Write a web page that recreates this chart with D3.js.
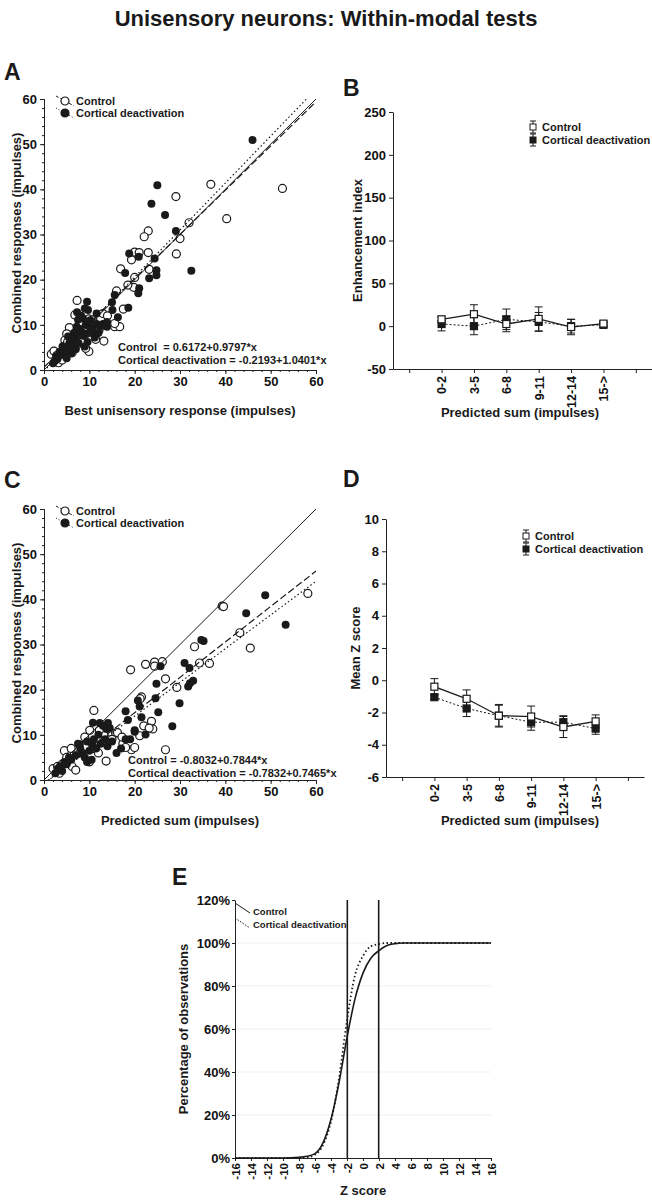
<!DOCTYPE html>
<html>
<head>
<meta charset="utf-8">
<script src="https://cdn.jsdelivr.net/npm/d3@7"></script>
<style>
  body { margin: 0; background: #fff; }
  svg { display: block; font-family: "Liberation Sans", Arial, Helvetica, sans-serif; font-weight: bold; }
  .axis path, .axis line { stroke: #222; }
  .axis text { fill: #111; font-weight: bold; font-family: "Liberation Sans", Arial, Helvetica, sans-serif; }
</style>
</head>
<body>
<svg width="652" height="1200"></svg>
<script>
// ---- data ----
const aControl = [[36.8,41.1],[52.6,40.2],[40.3,33.5],[29.1,38.4],[32.0,32.6],[30.0,29.1],[29.2,25.7],[23.0,30.8],[22.1,29.5],[23.0,26.0],[20.0,26.1],[21.0,26.0],[19.3,24.4],[23.2,22.3],[16.9,22.4],[20.0,20.5],[19.8,18.3],[16.0,17.5],[15.6,9.6],[16.7,9.6],[13.2,6.4],[7.3,15.4],[9.9,11.3],[12.1,8.7],[9.9,4.1],[5.9,8.9],[3.1,2.2],[4.6,6.6],[6.4,8.0],[8.6,10.3],[10.8,11.1],[1.6,3.5],[4.9,4.4],[7.9,7.4],[9.4,8.1],[13.0,12.5],[15.6,10.3],[2.2,4.2],[2.8,3.2],[3.6,2.6],[4.2,5.2],[5.2,6.2],[5.6,9.4],[6.6,7.2],[7.2,5.4],[7.6,9.6],[8.2,6.2],[8.8,9.2],[9.2,4.8],[10.2,9.6],[11.2,10.2],[12.2,9.2],[6.2,3.8],[8.2,10.6],[3.2,1.6],[4.0,2.2],[11.4,6.8],[14.0,12.0],[6.8,12.2],[5.0,8.0],[17.5,13.5],[18.5,18.8]]
const aCortical = [[46.0,50.9],[25.0,40.9],[23.7,36.8],[26.7,34.3],[29.1,30.8],[32.5,22.0],[24.4,24.7],[18.8,25.8],[20.9,25.1],[17.9,21.5],[24.8,22.1],[23.2,20.3],[24.8,21.0],[21.0,18.1],[20.8,17.0],[15.6,16.6],[15.0,15.0],[18.6,13.8],[15.1,13.3],[16.3,11.7],[13.9,10.6],[13.9,9.6],[9.5,15.1],[11.6,12.5],[7.3,12.8],[9.7,13.3],[8.6,11.4],[7.5,11.1],[10.1,9.6],[9.0,5.2],[6.8,5.9],[5.3,7.4],[4.2,5.2],[2.7,3.0],[2.0,1.5],[3.8,4.1],[6.0,3.7],[8.2,8.1],[10.8,8.1],[12.3,9.6],[2.4,2.0],[3.0,2.5],[3.4,4.0],[4.0,3.4],[4.6,5.0],[5.0,4.0],[5.6,6.0],[6.2,5.0],[6.6,8.2],[7.0,7.0],[7.6,6.0],[8.0,9.0],[8.6,7.6],[9.2,10.0],[9.6,6.2],[10.2,11.0],[10.6,9.0],[11.2,7.2],[11.6,10.2],[6.0,6.6],[7.2,9.6],[8.2,12.0],[9.0,13.6],[5.0,2.6],[3.2,3.2],[7.0,4.6],[9.2,8.0],[13.0,10.2],[12.0,8.2]]
const aFitControl = [0.6172, 0.9797]   // intercept, slope
const aFitCortical = [-0.2193, 1.0401]

const cControl = [[58.2,41.3],[39.3,38.5],[39.6,38.4],[43.2,32.6],[45.5,29.2],[33.2,29.5],[34.3,25.9],[36.5,25.8],[29.3,20.5],[19.1,24.4],[22.4,25.6],[24.4,26.1],[26.1,26.2],[24.4,25.2],[26.8,22.4],[21.5,18.4],[21.2,18.0],[23.7,13.0],[24.0,11.3],[21.1,9.8],[19.3,6.7],[26.8,6.7],[11.0,15.4],[15.8,10.4],[17.4,8.1],[10.1,11.0],[13.7,4.2],[2.0,2.5],[3.4,1.5],[4.5,6.5],[5.0,5.0],[6.2,3.0],[7.0,2.2],[8.0,6.0],[9.0,9.5],[10.0,4.0],[11.0,7.0],[12.0,6.0],[13.2,10.0],[15.0,9.0],[16.2,10.5],[17.2,9.5],[18.0,7.2],[20.0,7.2],[22.0,12.0],[23.2,11.5],[12.2,11.0],[6.0,7.0],[4.0,3.5],[3.0,3.0]]
const cCortical = [[48.8,40.9],[44.6,36.9],[53.3,34.4],[34.7,31.0],[35.2,30.8],[31.0,25.9],[32.1,24.8],[32.9,22.0],[31.8,20.7],[32.2,21.4],[29.9,17.0],[28.3,11.9],[25.7,25.2],[24.8,21.3],[24.6,18.1],[25.2,15.0],[20.7,17.6],[21.1,16.3],[18.0,15.2],[18.5,13.3],[21.5,13.9],[22.4,10.1],[20.0,10.7],[10.8,12.7],[12.3,12.6],[14.1,12.6],[13.8,11.3],[7.9,7.9],[2.5,1.5],[3.0,2.5],[3.5,3.0],[4.0,2.0],[4.5,4.0],[5.0,3.5],[5.5,5.0],[6.0,4.5],[7.0,5.5],[7.5,8.0],[8.0,7.0],[8.5,6.0],[9.0,5.0],[9.5,4.0],[10.0,6.5],[10.5,8.0],[11.0,9.0],[11.5,7.0],[12.0,10.0],[12.5,8.0],[13.0,12.0],[13.5,9.0],[14.0,7.5],[14.5,11.5],[15.0,8.5],[17.0,7.0],[18.0,9.0],[19.0,9.0],[20.0,11.0],[16.0,6.0],[9.5,8.5],[10.5,4.5]]
const cFitControl = [-0.8032, 0.7844]
const cFitCortical = [-0.7832, 0.7465]

const bins = ['0-2', '3-5', '6-8', '9-11', '12-14', '15->']
const bControlMean = [8, 14, 2.5, 8.5, -1, 3]
const bControlErr = [3, 11, 9, 14, 9, 3]
const bCorticalMean = [2.5, 0, 8, 5, 0, 1.5]
const bCorticalErr = [8, 10, 12, 11, 8, 3]

const dControlMean = [-0.4, -1.15, -2.2, -2.25, -2.9, -2.55]
const dControlErr = [0.5, 0.55, 0.7, 0.65, 0.65, 0.4]
const dCorticalMean = [-1.05, -1.75, -2.2, -2.6, -2.6, -3.0]
const dCorticalErr = [0.15, 0.5, 0.65, 0.5, 0.4, 0.35]

// cumulative % of observations vs Z score
const eControl = [[-16,0],[-10,0],[-8,0.3],[-7,0.8],[-6,2],[-5,7],[-4,18],[-3,35],[-2,56],[-1,74],[0,86],[1,93],[2,96.5],[3,98.8],[4,99.7],[5,100],[16,100]]
const eCortical = [[-16,0],[-8,0],[-7,0.3],[-6,1.5],[-5,6],[-4,17],[-3,37],[-2,64],[-1,85],[0,94],[1,98.5],[2,99.5],[3,100],[16,100]]
const zCrit = [-1.96, 1.96]

const ticks60 = [0, 10, 20, 30, 40, 50, 60]
const zTicks = [-16,-14,-12,-10,-8,-6,-4,-2,0,2,4,6,8,10,12,14,16]
const pctTicks = [0, 20, 40, 60, 80, 100, 120]

const svg = d3.select('svg')
const ink = '#1a1a1a'
const plain = d => String(d)   // keep ASCII hyphen for negatives

svg.append('text')
  .attr('x', 326).attr('y', 26)
  .attr('text-anchor', 'middle')
  .attr('font-size', '22px')
  .attr('fill', ink)
  .text('Unisensory neurons: Within-modal tests')

const panelLabel = (t, x, y) => svg.append('text')
  .attr('x', x).attr('y', y)
  .attr('font-size', '23px').attr('fill', ink).text(t)

const yTitle = (t, x, y) => svg.append('text')
  .attr('transform', `translate(${x},${y}) rotate(-90)`)
  .attr('text-anchor', 'middle')
  .attr('font-size', '13px').attr('fill', ink).text(t)

const xTitle = (t, x, y) => svg.append('text')
  .attr('x', x).attr('y', y)
  .attr('text-anchor', 'middle')
  .attr('font-size', '13px').attr('fill', ink).text(t)

const axisG = (tr) => svg.append('g').attr('class', 'axis').attr('transform', tr)

//#region scatter panels (A, C)
function scatterPanel(top, control, cortical, fitC, fitK, xLab, eqs) {
  const x = d3.scaleLinear().domain([0, 60]).range([44, 316])
  const y = d3.scaleLinear().domain([0, 60]).range([top + 271, top])
  const bottom = top + 271

  const id = 'clip' + top
  svg.append('clipPath').attr('id', id)
    .append('rect').attr('x', 44).attr('y', top).attr('width', 272).attr('height', 271)

  // minor ticks every 2 units
  axisG(`translate(0,${bottom})`)
    .call(d3.axisBottom(x).tickValues(d3.range(0, 61, 2)).tickSize(2).tickFormat(''))
  axisG('translate(44,0)')
    .call(d3.axisLeft(y).tickValues(d3.range(0, 61, 2)).tickSize(2).tickFormat(''))

  axisG(`translate(0,${bottom})`)
    .call(d3.axisBottom(x).tickValues(ticks60).tickSize(4).tickPadding(3).tickFormat(plain))
    .attr('font-size', '13px').attr('font-family', null)
  axisG('translate(44,0)')
    .call(d3.axisLeft(y).tickValues(ticks60).tickSize(4).tickPadding(3).tickFormat(plain))
    .attr('font-size', '13px').attr('font-family', null)

  svg.append('g').selectAll('circle').data(control).join('circle')
    .attr('cx', d => x(d[0])).attr('cy', d => y(d[1])).attr('r', 4)
    .attr('fill', '#fff').attr('stroke', ink).attr('stroke-width', 1.2)
  svg.append('g').selectAll('circle').data(cortical).join('circle')
    .attr('cx', d => x(d[0])).attr('cy', d => y(d[1])).attr('r', 4)
    .attr('fill', ink)

  const lines = svg.append('g').attr('clip-path', `url(#${id})`)
    .attr('fill', 'none').attr('stroke', ink)
  lines.append('line')
    .attr('x1', x(0)).attr('y1', y(0)).attr('x2', x(60)).attr('y2', y(60))
    .attr('stroke-width', 1)
  const fitLine = (f, dash) => lines.append('line')
    .attr('x1', x(0)).attr('y1', y(f[0]))
    .attr('x2', x(60)).attr('y2', y(f[0] + f[1] * 60))
    .attr('stroke-width', 1.2).attr('stroke-dasharray', dash)
  fitLine(fitC, '7,3')
  fitLine(fitK, '1.5,2.5')

  // legend
  const leg = svg.append('g').attr('transform', `translate(65,${top + 2})`)
  const item = (dy, dash, filled, label) => {
    const g = leg.append('g').attr('transform', `translate(0,${dy})`)
    g.append('line').attr('x1', -9).attr('y1', -5).attr('x2', 9).attr('y2', 5)
      .attr('stroke', ink).attr('stroke-dasharray', dash)
    g.append('circle').attr('r', 4)
      .attr('fill', filled ? ink : '#fff').attr('stroke', ink).attr('stroke-width', 1.2)
    g.append('text').attr('x', 11).attr('y', 4).attr('font-size', '11px').attr('fill', ink).text(label)
  }
  item(0, '3,2', false, 'Control')
  item(12, '1,2', true, 'Cortical deactivation')

  eqs.forEach(e => svg.append('text')
    .attr('x', e.x).attr('y', e.y)
    .attr('font-size', '11px').attr('fill', ink)
    .style('white-space', 'pre').text(e.t))

  xTitle(xLab, 180, bottom + 45)
  yTitle('Combined responses (impulses)', 21, top + 134)
}

panelLabel('A', 4, 80)
scatterPanel(99, aControl, aCortical, aFitControl, aFitCortical,
  'Best unisensory response (impulses)',
  [{x: 118, y: 351, t: 'Control  = 0.6172+0.9797*x'},
   {x: 118, y: 364, t: 'Cortical deactivation = -0.2193+1.0401*x'}])

panelLabel('C', 4, 488)
scatterPanel(509, cControl, cCortical, cFitControl, cFitCortical,
  'Predicted sum (impulses)',
  [{x: 128, y: 764, t: 'Control = -0.8032+0.7844*x'},
   {x: 128, y: 777, t: 'Cortical deactivation = -0.7832+0.7465*x'}])
//#endregion

//#region category panels (B, D)
function binPanel(opt) {
  const x = d3.scaleLinear().domain([-0.5, 7.5]).range([opt.left, opt.right])
  const y = d3.scaleLinear().domain(opt.yDomain).range([opt.bottom, opt.top])

  axisG(`translate(0,${opt.bottom})`)
    .call(d3.axisBottom(x).tickValues(d3.range(8)).tickSize(4).tickSizeOuter(0)
      .tickFormat(i => bins[i - 1] || ''))
    .attr('font-size', '12.5px').attr('font-family', null)
    .selectAll('text')
    .attr('y', 0).attr('x', -7).attr('dy', '0.35em')
    .attr('transform', 'rotate(-90)').style('text-anchor', 'end')

  axisG(`translate(${opt.left},0)`)
    .call(d3.axisLeft(y).tickValues(opt.yTicks).tickSize(4).tickSizeOuter(0).tickPadding(3).tickFormat(plain))
    .attr('font-size', '13px').attr('font-family', null)

  const series = (mean, err, filled, dash) => {
    const pts = mean.map((m, i) => ({i: i + 1, m, e: err[i]}))
    svg.append('path').datum(pts)
      .attr('d', d3.line().x(d => x(d.i)).y(d => y(d.m)))
      .attr('fill', 'none').attr('stroke', ink)
      .attr('stroke-width', filled ? 1 : 1.3)
      .attr('stroke-dasharray', dash)
    const g = svg.append('g').attr('stroke', ink).attr('stroke-width', 1)
    g.selectAll('.eb').data(pts).join('line')
      .attr('x1', d => x(d.i)).attr('x2', d => x(d.i))
      .attr('y1', d => y(d.m - d.e)).attr('y2', d => y(d.m + d.e))
    g.selectAll('.cap').data(pts.flatMap(d => [d.m - d.e, d.m + d.e].map(v => ({i: d.i, v}))))
      .join('line')
      .attr('x1', d => x(d.i) - 4).attr('x2', d => x(d.i) + 4)
      .attr('y1', d => y(d.v)).attr('y2', d => y(d.v))
    g.selectAll('rect').data(pts).join('rect')
      .attr('x', d => x(d.i) - 3.5).attr('y', d => y(d.m) - 3.5)
      .attr('width', 7).attr('height', 7)
      .attr('fill', filled ? ink : '#fff').attr('stroke-width', 1.2)
  }
  series(opt.kMean, opt.kErr, true, '2,2')
  series(opt.cMean, opt.cErr, false, null)

  const leg = svg.append('g').attr('transform', `translate(${opt.legX},${opt.legY})`)
  ;[false, true].forEach((filled, k) => {
    const g = leg.append('g').attr('transform', `translate(0,${k * 13})`).attr('stroke', ink)
    g.append('line').attr('y1', -6).attr('y2', 6)
    g.append('line').attr('x1', -3).attr('x2', 3).attr('y1', -6).attr('y2', -6)
    g.append('line').attr('x1', -3).attr('x2', 3).attr('y1', 6).attr('y2', 6)
    g.append('rect').attr('x', -3).attr('y', -3).attr('width', 6).attr('height', 6)
      .attr('fill', filled ? ink : '#fff')
    g.append('text').attr('x', 9).attr('y', 4).attr('stroke', 'none')
      .attr('font-size', '11px').attr('fill', ink)
      .text(filled ? 'Cortical deactivation' : 'Control')
  })

  yTitle(opt.yLab, opt.yLabX, (opt.top + opt.bottom) / 2)
  xTitle('Predicted sum (impulses)', 520, opt.bottom + 48)
}

panelLabel('B', 343, 96)
binPanel({
  left: 393, right: 652, top: 112, bottom: 369,
  yDomain: [-50, 250], yTicks: [-50, 0, 50, 100, 150, 200, 250],
  cMean: bControlMean, cErr: bControlErr, kMean: bCorticalMean, kErr: bCorticalErr,
  legX: 533, legY: 127, yLab: 'Enhancement index', yLabX: 362
})

panelLabel('D', 343, 487)
binPanel({
  left: 386, right: 644, top: 519, bottom: 777,
  yDomain: [-6, 10], yTicks: [-6, -4, -2, 0, 2, 4, 6, 8, 10],
  cMean: dControlMean, cErr: dControlErr, kMean: dCorticalMean, kErr: dCorticalErr,
  legX: 526, legY: 536, yLab: 'Mean Z score', yLabX: 360
})
//#endregion

//#region panel E
panelLabel('E', 172, 885)
const xE = d3.scaleLinear().domain([-16, 16]).range([235, 491])
const yE = d3.scaleLinear().domain([0, 120]).range([1158, 900])

svg.append('g').selectAll('line').data([20, 40, 60, 80, 100]).join('line')
  .attr('x1', xE(-16)).attr('x2', xE(16))
  .attr('y1', d => yE(d)).attr('y2', d => yE(d))
  .attr('stroke', '#efefef')

axisG('translate(0,1158)')
  .call(d3.axisBottom(xE).tickValues(zTicks).tickSize(3).tickSizeOuter(0).tickFormat(plain))
  .attr('font-size', '11.5px').attr('font-family', null)
  .selectAll('text')
  .attr('y', 0).attr('x', -5).attr('dy', '0.35em')
  .attr('transform', 'rotate(-90)').style('text-anchor', 'end')

axisG('translate(235,0)')
  .call(d3.axisLeft(yE).tickValues(pctTicks).tickSize(3).tickSizeOuter(0).tickPadding(2)
    .tickFormat(d => d + '%'))
  .attr('font-size', '13px').attr('font-family', null)

const lineE = d3.line().x(d => xE(d[0])).y(d => yE(d[1])).curve(d3.curveMonotoneX)
svg.append('path').datum(eCortical).attr('d', lineE)
  .attr('fill', 'none').attr('stroke', ink).attr('stroke-width', 1.8).attr('stroke-dasharray', '1.5,2.5')
svg.append('path').datum(eControl).attr('d', lineE)
  .attr('fill', 'none').attr('stroke', ink).attr('stroke-width', 1.6)

svg.append('g').selectAll('line').data(zCrit).join('line')
  .attr('x1', d => xE(d)).attr('x2', d => xE(d))
  .attr('y1', yE(120)).attr('y2', yE(0))
  .attr('stroke', ink).attr('stroke-width', 1.6)

const legE = svg.append('g')
legE.append('line').attr('x1', 235).attr('y1', 903).attr('x2', 250).attr('y2', 913)
  .attr('stroke', ink)
legE.append('line').attr('x1', 235).attr('y1', 918).attr('x2', 250).attr('y2', 928)
  .attr('stroke', ink).attr('stroke-dasharray', '1.5,1.5')
legE.append('text').attr('x', 253).attr('y', 915).attr('font-size', '9.5px').attr('fill', ink).text('Control')
legE.append('text').attr('x', 253).attr('y', 928).attr('font-size', '9.5px').attr('fill', ink).text('Cortical deactivation')

yTitle('Percentage of observations', 188, 1029)
xTitle('Z score', 363, 1195)
//#endregion
</script>
</body>
</html>
